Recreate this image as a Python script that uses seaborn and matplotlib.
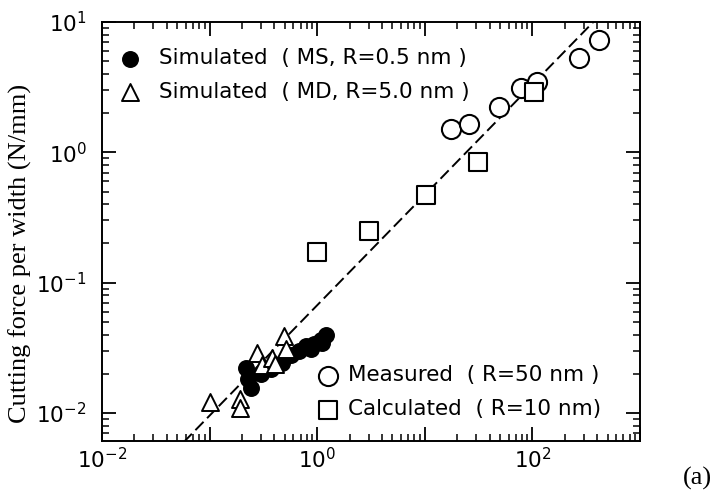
import matplotlib
matplotlib.use('Agg')
import matplotlib.pyplot as plt
import seaborn as sns
from matplotlib.ticker import FixedLocator, FixedFormatter, LogLocator, NullFormatter

# Valores (escala log-log)
ms_x = [0.219, 0.228, 0.244, 0.30, 0.374, 0.473, 0.573, 0.68, 0.79, 0.88, 0.94, 1.09, 1.10, 1.21]
ms_y = [0.0223, 0.0182, 0.0156, 0.0201, 0.0219, 0.0243, 0.0278, 0.0298, 0.0325, 0.031, 0.0341, 0.0366, 0.0345, 0.0398]

md_x = [0.10, 0.192, 0.192, 0.277, 0.308, 0.382, 0.407, 0.493, 0.515]
md_y = [0.0122, 0.0129, 0.0109, 0.0288, 0.0235, 0.0264, 0.0239, 0.0389, 0.0311]

meas_x = [17.5, 25.9, 49, 78, 111, 272, 417]
meas_y = [1.52, 1.66, 2.23, 3.09, 3.47, 5.26, 7.28]

calc_x = [1.0, 3.04, 10.2, 30.9, 104]
calc_y = [0.172, 0.248, 0.47, 0.84, 2.91]

# reta de ajuste (dois pontos)
fit_x = [0.01, 1000]
fit_y = [0.00136, 23.3]

labels_sim = ['Simulated  ( MS, R=0.5 nm )', 'Simulated  ( MD, R=5.0 nm )']
labels_exp = ['Measured  ( R=50 nm )', 'Calculated  ( R=10 nm)']

x_ticks = [1e-2, 1e-1, 1e0, 1e1, 1e2, 1e3]
x_ticklabels = [r'$\mathdefault{10^{-2}}$', '', r'$\mathdefault{10^{0}}$', '',
                r'$\mathdefault{10^{2}}$', '']
y_ticks = [1e-2, 1e-1, 1e0, 1e1]
y_ticklabels = [r'$\mathdefault{10^{-2}}$', r'$\mathdefault{10^{-1}}$',
                r'$\mathdefault{10^{0}}$', r'$\mathdefault{10^{1}}$']

sns.set_theme(style='ticks')
plt.rcParams['font.family'] = ['DejaVu Sans']
plt.rcParams['text.color'] = 'black'
plt.rcParams['axes.edgecolor'] = 'black'
plt.rcParams['xtick.color'] = 'black'
plt.rcParams['ytick.color'] = 'black'

fig = plt.figure(figsize=(7.13, 5.01), dpi=100)
ax = fig.add_axes([102 / 713, 60 / 501, 538 / 713, 419 / 501])
ax.set_xscale('log')
ax.set_yscale('log')

sns.lineplot(x=fit_x, y=fit_y, ax=ax, color='black', linewidth=1.4, errorbar=None)
ax.lines[-1].set_dashes((6, 2.6))

sns.scatterplot(x=ms_x, y=ms_y, ax=ax, marker='o', s=125, color='black',
                edgecolor='black', linewidth=1.0, zorder=3)
h_ms = ax.collections[-1]
sns.scatterplot(x=md_x, y=md_y, ax=ax, marker='^', s=150, color='white',
                edgecolor='black', linewidth=1.4, zorder=4)
h_md = ax.collections[-1]
sns.scatterplot(x=meas_x, y=meas_y, ax=ax, marker='o', s=190, color='white',
                edgecolor='black', linewidth=1.5, zorder=3)
h_meas = ax.collections[-1]
sns.scatterplot(x=calc_x, y=calc_y, ax=ax, marker='s', s=175, color='white',
                edgecolor='black', linewidth=1.5, zorder=4)
h_calc = ax.collections[-1]

ax.set_xlim(1e-2, 1e3)
ax.set_ylim(0.0061, 10)

ax.xaxis.set_major_locator(FixedLocator(x_ticks))
ax.xaxis.set_major_formatter(FixedFormatter(x_ticklabels))
ax.yaxis.set_major_locator(FixedLocator(y_ticks))
ax.yaxis.set_major_formatter(FixedFormatter(y_ticklabels))
for axis in (ax.xaxis, ax.yaxis):
    axis.set_minor_locator(LogLocator(base=10, subs=range(2, 10), numticks=20))
    axis.set_minor_formatter(NullFormatter())

ax.tick_params(which='both', direction='in', top=True, right=True, labelsize=15.5)
ax.tick_params(which='major', length=10, width=1.3)
ax.tick_params(which='minor', length=5, width=1.1)
ax.tick_params(axis='x', which='major', pad=4)
ax.tick_params(axis='y', which='major', pad=11)
for sp in ax.spines.values():
    sp.set_linewidth(1.4)

ax.set_xlabel('')
ax.set_ylabel('')

leg1 = ax.legend([h_ms, h_md], labels_sim, loc='upper left', bbox_to_anchor=(0.0335, 0.937),
                 frameon=False, fontsize=15.5, handlelength=0.95, handletextpad=0.85,
                 labelspacing=0.62, borderpad=0, borderaxespad=0, scatterpoints=1)
ax.add_artist(leg1)
ax.legend([h_meas, h_calc], labels_exp, loc='lower left', bbox_to_anchor=(0.401, 0.052),
          frameon=False, fontsize=15.5, handlelength=0.95, handletextpad=0.45,
          labelspacing=0.65, borderpad=0, borderaxespad=0, scatterpoints=1)

fig.text(20 / 713, 1 - 253 / 501, 'Cutting force per width (N/mm)', rotation=90,
         ha='center', va='center', fontsize=19, family=['Liberation Serif', 'DejaVu Serif'])
fig.text(697 / 713, 1 - 478 / 501, '(a)', ha='center', va='center', fontsize=19,
         family=['Liberation Serif', 'DejaVu Serif'])

fig.savefig('out.png', dpi=100)
